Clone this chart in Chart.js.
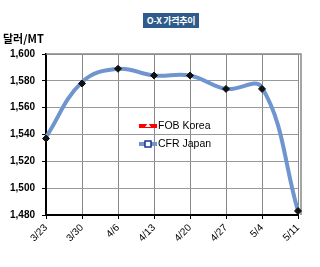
<!DOCTYPE html>
<html>
<head>
<meta charset="utf-8">
<script src="https://cdn.jsdelivr.net/npm/chart.js@4/dist/chart.umd.min.js"></script>
<style>
  html, body { margin: 0; padding: 0; background: #fff; }
  #wrap { position: relative; width: 320px; height: 267px; }
  #title {
    position: absolute; left: 143px; top: 13px; width: 56px; height: 15px;
    background: #2e5b8c; color: #fff; font: bold 9px "Noto Sans CJK KR", Arial, sans-serif;
    line-height: 15px; text-align: center; letter-spacing: -0.3px;
  }
  #unit {
    position: absolute; left: 3px; top: 30px;
    font: bold 11px "Noto Sans CJK KR", Arial, sans-serif; color: #000;
  }
</style>
</head>
<body>
<div id="wrap">
  <canvas id="chart" width="320" height="267"></canvas>
  <div id="title">O-X 가격추이</div>
  <div id="unit">달러/MT</div>
</div>
<script>
const labels = ['3/23', '3/30', '4/6', '4/13', '4/20', '4/27', '5/4', '5/11'];
const fobKorea = [1537, 1578, 1589, 1584, 1584, 1574, 1574, 1483];
const cfrJapan = [1538, 1579, 1589, 1584, 1584, 1574, 1575, 1483];
const yTicks = [1480, 1500, 1520, 1540, 1560, 1580, 1600];

(function () {
  const canvas = document.getElementById('chart');

  const plotFrame = {
    id: 'plotFrame',
    beforeDatasetsDraw(chart) {
      const { ctx, chartArea: a } = chart;
      ctx.save();
      ctx.strokeStyle = '#888';
      ctx.lineWidth = 1.5;
      ctx.beginPath();
      ctx.moveTo(a.left, a.top);
      ctx.lineTo(a.right + 3, a.top);
      ctx.lineTo(a.right + 3, a.bottom);
      ctx.stroke();
      ctx.restore();
    },
  };

  const legendInside = {
    id: 'legendInside',
    afterDraw(chart) {
      const ctx = chart.ctx;
      const items = [
        { text: 'FOB Korea', line: '#ff0000', marker: 'tri' },
        { text: 'CFR Japan', line: '#6f95cf', marker: 'sq' },
      ];
      ctx.save();
      ctx.font = '10.5px Arial, "Liberation Sans", sans-serif';
      ctx.textBaseline = 'middle';
      items.forEach((it, i) => {
        const y = 126 + i * 18;
        ctx.fillStyle = it.line;
        ctx.fillRect(139, y - 2, 18, 4);
        if (it.marker === 'tri') {
          ctx.fillStyle = '#fff';
          ctx.beginPath();
          ctx.moveTo(148, y - 3);
          ctx.lineTo(151, y + 1);
          ctx.lineTo(145, y + 1);
          ctx.closePath();
          ctx.fill();
        } else {
          ctx.fillStyle = '#fff';
          ctx.strokeStyle = '#1a2fa0';
          ctx.lineWidth = 1.5;
          ctx.fillRect(145, y - 3, 6, 6);
          ctx.strokeRect(145, y - 3, 6, 6);
        }
        ctx.fillStyle = '#000';
        ctx.fillText(it.text, 158, y);
      });
      ctx.restore();
    },
  };

  new Chart(canvas, {
    type: 'line',
    data: {
      labels: labels,
      datasets: [
        {
          label: 'CFR Japan',
          data: cfrJapan,
          borderColor: '#6f95cf',
          borderWidth: 4,
          tension: 0.4,
          pointRadius: 0,
          order: 2,
        },
        {
          label: 'FOB Korea',
          data: fobKorea,
          showLine: false,
          pointStyle: 'rectRot',
          pointRadius: 3.5,
          pointBackgroundColor: '#111',
          pointBorderColor: '#111',
          order: 1,
        },
      ],
    },
    options: {
      responsive: false,
      animation: false,
      layout: { padding: { left: 2, right: 22, top: 54, bottom: 0 } },
      plugins: { legend: { display: false }, tooltip: { enabled: false } },
      scales: {
        x: {
          offset: false,
          grid: { color: '#888', lineWidth: 1, drawTicks: true, tickLength: 4, tickColor: '#000' },
          border: { color: '#000', width: 2 },
          ticks: {
            color: '#000', font: { size: 10, family: 'Arial' },
            maxRotation: 45, minRotation: 45, padding: 3,
          },
          afterFit(axis) { axis.height = 52; },
        },
        y: {
          min: 1480,
          max: 1600,
          afterBuildTicks(axis) { axis.ticks = yTicks.map((v) => ({ value: v })); },
          grid: { color: '#999', lineWidth: 1, tickLength: 4, tickColor: '#000' },
          border: { color: '#000', width: 2 },
          ticks: {
            color: '#000', font: { size: 10, weight: 'bold', family: 'Arial' }, padding: 7,
            callback: (v) => v.toLocaleString('en-US'),
          },
          afterFit(axis) { axis.width = 44; },
        },
      },
    },
    plugins: [plotFrame, legendInside],
  });
})();
</script>
</body>
</html>
